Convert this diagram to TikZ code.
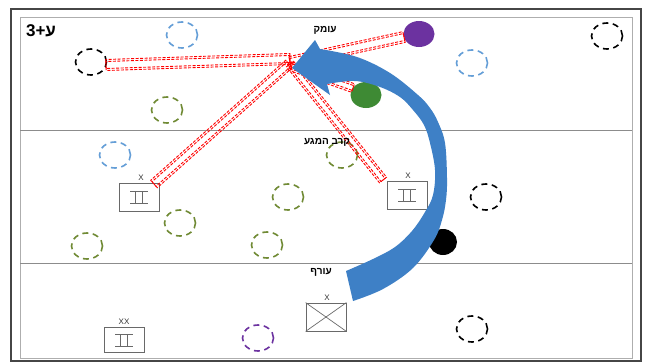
\documentclass[tikz,border=0pt]{standalone}
\usepackage{fontspec}
\setmainfont{Liberation Sans}
\newfontfamily\hebfont[Script=Hebrew]{Liberation Sans}
\TeXXeTstate=1
\usetikzlibrary{calc,shapes.geometric}

\definecolor{arrowblue}{RGB}{62,128,198}
\definecolor{cLightBlue}{RGB}{100,158,215}
\definecolor{cOlive}{RGB}{112,138,52}
\definecolor{cLeaf}{RGB}{62,138,52}
\definecolor{cViolet}{RGB}{108,50,160}
\definecolor{cFrame}{RGB}{70,70,70}
\definecolor{cLine}{RGB}{140,140,140}
\definecolor{cBox}{RGB}{105,105,105}

\newcommand\redband[4]{%
  \draw[bandline] ($(#1)!#3!90:(#2)$) -- ($(#2)!#3!-90:(#1)$) --
    ($(#2)!#3!90:(#1)$) -- ($(#1)!#3!-90:(#2)$) -- cycle;
  \draw[bandline] ($(#1)!#4!90:(#2)$) -- ($(#2)!#4!-90:(#1)$) --
    ($(#2)!#4!90:(#1)$) -- ($(#1)!#4!-90:(#2)$) -- cycle;}

\tikzset{
  unitdash/.style={ellipse, draw, dash pattern=on 6pt off 4.5pt, line width=1.6pt,
    minimum width=31pt, minimum height=26pt, inner sep=0pt},
  unitfill/.style={ellipse, minimum width=31pt, minimum height=26pt, inner sep=0pt},
  unitbox/.style={draw=cBox, line width=0.8pt, minimum width=40pt, minimum height=28pt, inner sep=0pt},
  echelon/.style={font=\fontsize{8}{8}\selectfont, text=black!80, inner sep=0pt},
  heblabel/.style={font=\hebfont\bfseries\fontsize{10}{12}\selectfont, inner sep=0pt},
  bandline/.style={draw=red, line width=0.9pt, dash pattern=on 3pt off 1.5pt},
  twoline/.pic={\draw[cBox, line width=0.7pt] (-9,-6)--(9,-6) (-9,6)--(9,6)
     (-3.5,-6)--(-3.5,6) (3.5,-6)--(3.5,6);}
}

\begin{document}
\begin{tikzpicture}[x=1pt,y=-1pt]
\fill[white] (0,0) rectangle (645,362);
\useasboundingbox (0,0) rectangle (645,362);

% frames and zone lines
\draw[cFrame, line width=1.5pt] (11,9) rectangle (641,361);
\draw[cLine!70, line width=0.8pt] (20,17) rectangle (632,358);
\coordinate (l1a) at (20,130); \coordinate (l1b) at (632,130);
\coordinate (l2a) at (20,263); \coordinate (l2b) at (632,263);
\draw[cLine, line width=1pt] (l1a) -- (l1b);
\draw[cLine, line width=1pt] (l2a) -- (l2b);

% title
\node[font=\hebfont\bfseries\fontsize{17}{17}\selectfont, inner sep=0pt] (title) at (41,31) {\beginR ע+3\endR};

% dashed units
\node[unitdash, draw=black] (c1) at (91,62) {};
\node[unitdash, draw=cLightBlue] (c2) at (182,35) {};
\node[unitdash, draw=cOlive] (c3) at (167,110) {};
\node[unitdash, draw=cLightBlue] (c4) at (472,63) {};
\node[unitdash, draw=black] (c5) at (607,36) {};
\node[unitdash, draw=cLightBlue] (c6) at (115,155) {};
\node[unitdash, draw=cOlive] (c7) at (342,155) {};
\node[unitdash, draw=cOlive] (c8) at (288,197) {};
\node[unitdash, draw=cOlive] (c9) at (180,223) {};
\node[unitdash, draw=cOlive] (c10) at (87,246) {};
\node[unitdash, draw=cOlive] (c11) at (267,245) {};
\node[unitdash, draw=black] (c12) at (486,197) {};
\node[unitdash, draw=cViolet] (c13) at (258,338) {};
\node[unitdash, draw=black] (c14) at (472,329) {};

% filled units
\node[unitfill, fill=cViolet] (p1) at (419,34) {};
\node[unitfill, fill=cLeaf] (g1) at (366,95) {};
\node[unitfill, fill=black, minimum width=28pt] (k1) at (443,242) {};

% boxes
\node[unitbox] (b1) at (139,197) {};
\pic at (b1.center) {twoline};
\node[echelon, anchor=south] (b1x) at ($(b1.north)+(2,-2)$) {X};
\node[unitbox] (b2) at (407,195) {};
\pic at (b2.center) {twoline};
\node[echelon, anchor=south] (b2x) at ($(b2.north)+(1,-2)$) {X};
\node[unitbox, minimum height=25pt] (b3) at (124,340) {};
\pic at (b3.center) {twoline};
\node[echelon, anchor=south] (b3x) at ($(b3.north)+(0,-2)$) {XX};
\node[unitbox] (b4) at (326,317) {};
\draw[cBox, line width=0.7pt] (b4.north west) -- (b4.south east) (b4.south west) -- (b4.north east);
\node[echelon, anchor=south] (b4x) at ($(b4.north)+(1,-2)$) {X};

% red bands
\coordinate (h1) at (290,59);  \coordinate (e1) at (106,65);
\coordinate (h2) at (290,62);  \coordinate (e2) at (404,37);
\coordinate (h3) at (290,66);  \coordinate (e3) at (353,88);
\coordinate (h4) at (289,64);  \coordinate (e4) at (154,184);
\coordinate (h5) at (290,64);  \coordinate (e5) at (383,180);
\redband{h1}{e1}{5.5pt}{3.5pt}
\redband{h2}{e2}{5.5pt}{3.5pt}
\redband{h3}{e3}{4.5pt}{2.5pt}
\redband{h4}{e4}{5pt}{3pt}
\redband{h5}{e5}{4.5pt}{2.5pt}

% big curved arrow
\fill[arrowblue] plot[smooth, tension=0.6] coordinates {(353,301) (383,289) (413,268) (434,240)
   (442,220) (446,200) (447,178) (445,143) (438,122) (430,108) (418,95) (390,73) (357,57) (320,49)}
  -- (315,40) -- (292,68) -- (330,95) --
  plot[smooth, tension=0.6] coordinates {(327,84) (355,81) (380,87) (400,97) (413,110) (424,125)
   (430,143) (435,170) (433,195) (425,212) (412,231) (395,247) (373,259) (346,271)} -- cycle;

% zone labels
\node[heblabel] (deep) at (325,30) {\beginR עומק\endR};
\node[heblabel] (contact) at (327,142) {\beginR קרב המגע\endR};
\node[heblabel] (rear) at (321,272) {\beginR עורף\endR};
\end{tikzpicture}
\end{document}
